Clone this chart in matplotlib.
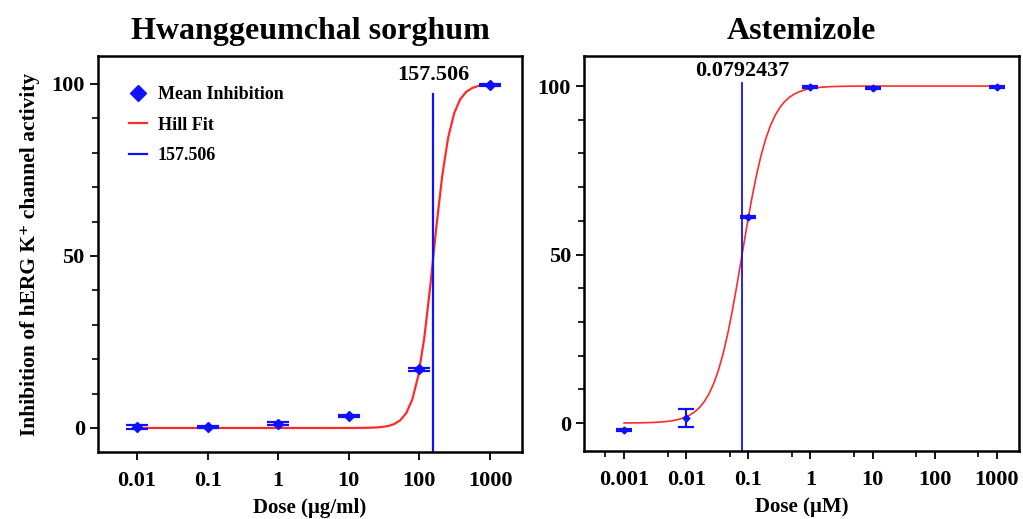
import numpy as np
import matplotlib.pyplot as plt
from matplotlib.lines import Line2D
from matplotlib.ticker import FixedLocator, NullFormatter, MultipleLocator

plt.rcParams['font.family'] = ['Liberation Serif', 'DejaVu Serif']
plt.rcParams['font.weight'] = 'bold'
plt.rcParams['axes.titleweight'] = 'bold'
plt.rcParams['axes.labelweight'] = 'bold'
plt.rcParams['mathtext.default'] = 'bf'

# sorghum extract, ug/ml
dose_s = [0.01, 0.1, 1, 10, 100, 1000]
inh_s = [0.3, 0.2, 1.2, 3.5, 17.0, 99.7]
err_s = [0.5, 0.3, 0.4, 0.4, 0.3, 0.3]
ic50_s = 157.506
hill_s = 3.5

# astemizole, uM
dose_a = [0.001, 0.01, 0.1, 1, 10, 1000]
inh_a = [-2.0, 1.5, 61.0, 99.7, 99.3, 99.8]
err_a = [0.3, 2.7, 0.3, 0.3, 0.3, 0.3]
ic50_a = 0.0792437
hill_a = 1.92


def hill(x, ic50, n):
    return 100.0 / (1.0 + (ic50 / x) ** n)


fig = plt.figure(figsize=(10.23, 5.19), dpi=100)
ax1 = fig.add_axes([0.0958, 0.129, 0.4145, 0.763])
ax2 = fig.add_axes([0.571, 0.131, 0.425, 0.761])

red = '#ff2a2a'
blue = '#1010ff'

# left panel
xf = np.logspace(-2, 3, 60)
ax1.plot(xf, hill(xf, ic50_s, hill_s), color=red, lw=1.6, zorder=2)
ax1.errorbar(dose_s, inh_s, yerr=err_s, fmt='D', ms=5, color=blue, ecolor=blue,
             capsize=8, elinewidth=1.5, capthick=1.6, zorder=3)
ax1.plot([ic50_s, ic50_s], [-7, 97], color=blue, lw=1.6)
ax1.text(ic50_s, 102.6, '%g' % ic50_s, ha='center', va='center', fontsize=16)
ax1.set_xscale('log')
ax1.set_xlim(10 ** -2.552, 10 ** 3.453)
ax1.set_ylim(-7, 108.1)
ax1.xaxis.set_major_locator(FixedLocator([0.01, 0.1, 1, 10, 100, 1000]))
ax1.xaxis.set_minor_locator(FixedLocator([]))
ax1.set_xticklabels(['0.01', '0.1', '1', '10', '100', '1000'])
ax1.set_ylabel('Inhibition of hERG K⁺ channel activity', fontsize=15.5, labelpad=8)
ax1.set_xlabel('Dose (µg/ml)', fontsize=15, labelpad=5)
ax1.set_title('Hwanggeumchal sorghum', fontsize=23, pad=12)

handles = [Line2D([], [], ls='none', marker='D', ms=8, color=blue),
           Line2D([], [], color=red, lw=1.6),
           Line2D([], [], color=blue, lw=1.6)]
ax1.legend(handles, ['Mean Inhibition', 'Hill Fit', '%g' % ic50_s], loc='upper left',
           bbox_to_anchor=(0.035, 0.965), frameon=False, fontsize=13,
           handlelength=1.0, handletextpad=0.6, labelspacing=0.75)

# right panel
xa = np.logspace(-3, 3, 80)
ax2.plot(xa, hill(xa, ic50_a, hill_a), color=red, lw=1.2, zorder=2)
ax2.errorbar(dose_a, inh_a, yerr=err_a, fmt='D', ms=3.5, color=blue, ecolor=blue,
             capsize=6, elinewidth=1.5, capthick=1.6, zorder=3)
ax2.plot([ic50_a, ic50_a], [-9, 101], color=blue, lw=1.3)
ax2.text(ic50_a, 104.4, '%g' % ic50_a, ha='center', va='center', fontsize=16)
ax2.set_xscale('log')
ax2.set_xlim(10 ** -3.643, 10 ** 3.354)
ax2.set_ylim(-8.3, 108.9)
ax2.xaxis.set_major_locator(FixedLocator([0.001, 0.01, 0.1, 1, 10, 100, 1000]))
ax2.xaxis.set_minor_locator(FixedLocator([5 * 10.0 ** k for k in range(-4, 3)]))
ax2.xaxis.set_minor_formatter(NullFormatter())
ax2.set_xticklabels(['0.001', '0.01', '0.1', '1', '10', '100', '1000'])
ax2.set_xlabel('Dose (µM)', fontsize=15, labelpad=5)
ax2.set_title('Astemizole', fontsize=23, pad=12)

for ax in (ax1, ax2):
    ax.yaxis.set_major_locator(FixedLocator([0, 50, 100]))
    ax.yaxis.set_minor_locator(MultipleLocator(10))
    ax.tick_params(axis='both', which='major', labelsize=16, length=6, width=1.3, direction='out')
    ax.tick_params(axis='x', which='major', pad=8)
    ax.tick_params(axis='both', which='minor', length=4, width=1.2, direction='out')
    for s in ax.spines.values():
        s.set_linewidth(1.8)

fig.savefig('out.png', dpi=100)
